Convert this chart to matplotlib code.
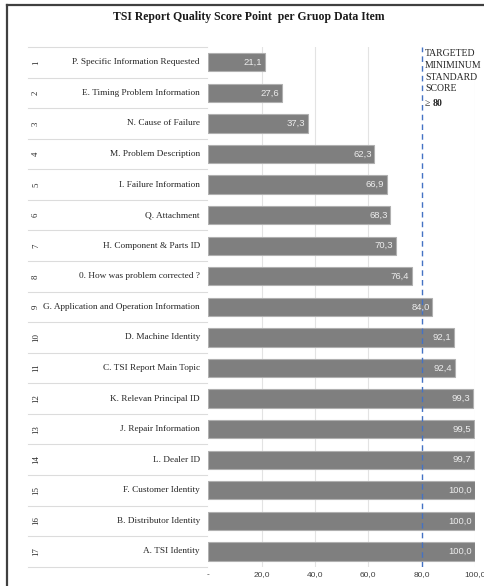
import matplotlib.pyplot as plt
from matplotlib.lines import Line2D
import matplotlib.transforms as mtransforms

labels = ['P. Specific Information Requested', 'E. Timing Problem Information',
          'N. Cause of Failure', 'M. Problem Description', 'I. Failure Information',
          'Q. Attachment', 'H. Component & Parts ID', '0. How was problem corrected ?',
          'G. Application and Operation Information', 'D. Machine Identity',
          'C. TSI Report Main Topic', 'K. Relevan Principal ID', 'J. Repair Information',
          'L. Dealer ID', 'F. Customer Identity', 'B. Distributor Identity', 'A. TSI Identity']
scores = [21.1, 27.6, 37.3, 62.3, 66.9, 68.3, 70.3, 76.4, 84.0, 92.1, 92.4, 99.3,
          99.5, 99.7, 100.0, 100.0, 100.0]
row_nums = list(range(1, 18))
target = 80
xticks = [0, 20, 40, 60, 80, 100]
xtick_labels = ['-', '20,0', '40,0', '60,0', '80,0', '100,0']

W, H = 485, 586
fig = plt.figure(figsize=(W / 100, H / 100), dpi=100)
serif = ['Liberation Serif', 'DejaVu Serif']
sans = ['Liberation Sans', 'DejaVu Sans']

# bar area in pixels
x0, x1 = 208.4, 475.0
y_top, y_bot = 47.0, 566.7
ax = fig.add_axes([x0 / W, 1 - y_bot / H, (x1 - x0) / W, (y_bot - y_top) / H])

n = len(scores)
ypos = list(range(n))
ax.barh(ypos, scores, height=0.6, color='#7f7f7f', edgecolor='#b0b0b0', linewidth=0.8, zorder=3)
ax.set_xlim(0, 100)
ax.set_ylim(n - 0.5, -0.5)

for x in [20, 40, 60, 100]:
    ax.axvline(x, color='#e3e3e3', lw=0.8, zorder=1)
ax.axvline(target, color='#4472c4', lw=1.0, ls=(0, (4, 3)), zorder=4)

for y, v in zip(ypos, scores):
    ax.text(v - 1.0, y, f'{v:.1f}'.replace('.', ','), ha='right', va='center',
            color='#ececec', fontsize=6.8, family=sans, zorder=5)

ax.set_xticks(xticks)
ax.set_xticklabels(xtick_labels, family=sans, fontsize=6, color='#404040')
ax.tick_params(axis='x', length=0, pad=3)
ax.set_yticks([])
for s in ax.spines.values():
    s.set_visible(False)

# label table on the left
trans = mtransforms.blended_transform_factory(fig.transFigure, ax.transData)
tx0, tx1 = 28 / W, 207 / W
for b in [i - 0.5 for i in range(n + 1)]:
    fig.add_artist(Line2D([tx0, tx1], [b, b], transform=trans, color='#dcdcdc', lw=0.8))
for y, lab, num in zip(ypos, labels, row_nums):
    fig.text(200 / W, y, lab, transform=trans, ha='right', va='center',
             fontsize=6.7, family=serif, color='#262626')
    fig.text(36 / W, y, str(num), transform=trans, ha='center', va='center',
             rotation=90, fontsize=6.3, family=serif, color='#262626')

# target annotation
fig.text(425 / W, 1 - 49 / H, 'TARGETED\nMINIMINUM\nSTANDARD\nSCORE', ha='left', va='top',
         fontsize=7, family=serif, color='#262626', linespacing=1.4)
fig.text(425 / W, 1 - 99 / H, '\u2265', ha='left', va='top', fontsize=7, family=serif, color='#262626')
fig.text(433 / W, 1 - 99 / H, '80', ha='left', va='top', fontsize=7, family=serif,
         weight='bold', color='#262626')

fig.text(249 / W, 1 - 17 / H, 'TSI Report Quality Score Point  per Gruop Data Item',
         ha='center', va='center', fontsize=8.5, family=serif, weight='bold', color='#1a1a1a')

# outer frame (only left and top edges visible)
fig.add_artist(Line2D([7 / W, 7 / W], [0, 1 - 5 / H], transform=fig.transFigure, color='#404040', lw=1.6))
fig.add_artist(Line2D([7 / W, 1], [1 - 5 / H, 1 - 5 / H], transform=fig.transFigure, color='#404040', lw=1.6))

fig.savefig('out.png', dpi=100)
